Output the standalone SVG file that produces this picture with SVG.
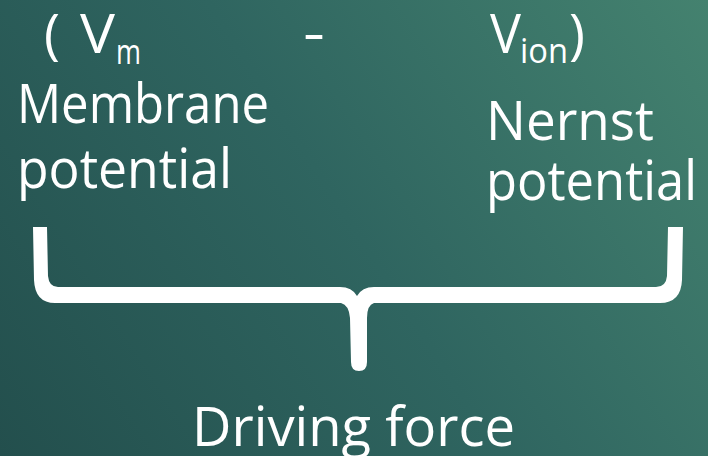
<svg xmlns="http://www.w3.org/2000/svg" width="708" height="456" viewBox="0 0 708 456">
  <defs>
    <linearGradient id="bg" x1="0" y1="456" x2="708" y2="0" gradientUnits="userSpaceOnUse">
      <stop offset="0" stop-color="#234f4d"/>
      <stop offset="0.5" stop-color="#2f6560"/>
      <stop offset="1" stop-color="#44826f"/>
    </linearGradient>
  </defs>
  <style>
    text { font-family: "Open Sans", "DejaVu Sans", sans-serif; fill: #ffffff; }
    .big { font-size: 54px; }
    .sub { font-size: 34px; }
    .brace { fill: #ffffff; }
  </style>
  <rect width="708" height="456" fill="url(#bg)"/>

  <g id="vm">
    <text class="big" x="44" y="53">(</text>
    <text class="big" x="80" y="53" textLength="35" lengthAdjust="spacingAndGlyphs">V</text>
    <text class="sub" x="116" y="64" textLength="25" lengthAdjust="spacingAndGlyphs">m</text>
  </g>
  <g id="minus">
    <text class="big" x="303" y="52" textLength="22" lengthAdjust="spacingAndGlyphs">-</text>
  </g>
  <g id="vion">
    <text class="big" x="490" y="53" textLength="31" lengthAdjust="spacingAndGlyphs">V</text>
    <text class="sub" x="520" y="63" textLength="48" lengthAdjust="spacingAndGlyphs">ion</text>
    <text class="big" x="569" y="53">)</text>
  </g>
  <g id="membrane">
    <text class="big" x="17" y="123" textLength="252" lengthAdjust="spacingAndGlyphs">Membrane</text>
    <text class="big" x="17" y="188" textLength="215" lengthAdjust="spacingAndGlyphs">potential</text>
  </g>
  <g id="nernst">
    <text class="big" x="486" y="140" textLength="168" lengthAdjust="spacingAndGlyphs">Nernst</text>
    <text class="big" x="486" y="200" textLength="211" lengthAdjust="spacingAndGlyphs">potential</text>
  </g>

  <g id="connectors">
    <path class="brace" d="M33,227 L47,227 L48,276 Q49,287 58,287 L340,287 Q352,287 357,296 Q362,287 374,287 L656,287 Q666,287 667,276 L668,227 L683,227 L682,280 Q681,303 660,303 L374,303 Q367,305 367,318 L367,362 Q367,371 359,371 Q351,371 351,362 L350,318 Q349,305 341,303 L55,303 Q35,303 34,280 Z"/>
  </g>

  <g id="driving-force">
    <text class="big" x="192" y="446" textLength="323" lengthAdjust="spacingAndGlyphs">Driving force</text>
  </g>
</svg>
